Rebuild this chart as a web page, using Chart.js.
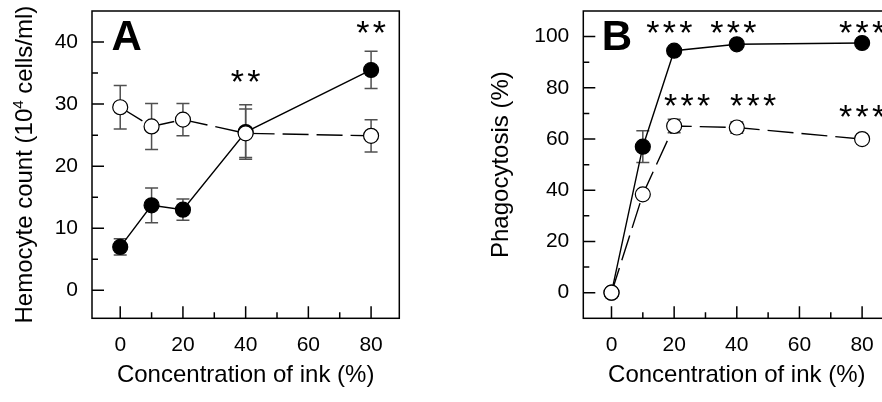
<!DOCTYPE html>
<html>
<head>
<meta charset="utf-8">
<script src="https://cdn.jsdelivr.net/npm/chart.js@4.4.1/dist/chart.umd.min.js"></script>
<style>
  html, body { margin: 0; padding: 0; background: #fff; }
  #wrap { position: relative; width: 882px; height: 402px; overflow: hidden; }
  #chartA { position: absolute; left: 0; top: 0; }
  #chartB { position: absolute; left: 441px; top: 0; }
</style>
</head>
<body>
<div id="wrap">
  <canvas id="chartA" width="441" height="402"></canvas>
  <canvas id="chartB" width="491" height="402"></canvas>
</div>
<script>
// ---------- data ----------
const conc = [0, 10, 20, 40, 80];

// A - hemocyte count (10^4 cells/ml)
const countInk     = [7.0, 13.7, 13.0, 25.5, 35.5];
const countInkErr  = [1.3, 2.8, 1.7, 4.4, 3.0];
const countCtrl    = [29.5, 26.4, 27.5, 25.3, 24.9];
const countCtrlErr = [3.5, 3.7, 2.6, 3.9, 2.6];

// B - phagocytosis (%)
const phagoInk     = [0, 57.0, 94.5, 97.0, 97.5];
const phagoInkErr  = [0, 6.2, 0.8, 0.8, 0.6];
const phagoCtrl    = [0, 38.4, 65.1, 64.5, 60.0];
const phagoCtrlErr = [0, 1.0, 2.6, 2.2, 0.8];

const xTicks  = [0, 20, 40, 60, 80];
const xMinor  = [10, 30, 50, 70];
const yTicksA = [0, 10, 20, 30, 40];
const yMinorA = [5, 15, 25, 35];
const yTicksB = [0, 20, 40, 60, 80, 100];
const yMinorB = [10, 30, 50, 70, 90];

// significance marks (x, y in data units)
const sigAx   = [40, 80];
const sigAy   = [34.5, 42.4];
const sigAtxt = ['**', '**'];
const sigBx   = [18.5, 38.9, 80, 24.1, 45.2, 80];
const sigBy   = [103.6, 103.6, 103.6, 75.1, 75.1, 70.9];
const sigBtxt = ['***', '***', '***', '***', '***', '***'];

const FONT = "'Liberation Sans', Arial, Helvetica, sans-serif";

function pts(vals) {
  return conc.map((x, i) => ({ x: x, y: vals[i] }));
}

// frame, inward ticks, error bars, panel letter, stars
function panelPlugin(cfg) {
  return {
    id: 'panel' + cfg.letter,
    beforeDatasetsDraw(chart) {
      const ctx = chart.ctx, ys = chart.scales.y;
      ctx.save();
      ctx.strokeStyle = '#505050';
      ctx.lineWidth = 1.5;
      chart.data.datasets.forEach((ds, di) => {
        const meta = chart.getDatasetMeta(di);
        ds.errors.forEach((e, i) => {
          if (!e) return;
          const p = meta.data[i];
          const v = ds.data[i].y;
          const t = ys.getPixelForValue(v + e);
          const b = ys.getPixelForValue(v - e);
          ctx.beginPath();
          ctx.moveTo(p.x, t); ctx.lineTo(p.x, b);
          ctx.moveTo(p.x - 6.5, t); ctx.lineTo(p.x + 6.5, t);
          ctx.moveTo(p.x - 6.5, b); ctx.lineTo(p.x + 6.5, b);
          ctx.stroke();
        });
      });
      ctx.restore();
    },
    afterDraw(chart) {
      const ctx = chart.ctx, a = chart.chartArea;
      const xs = chart.scales.x, ys = chart.scales.y;
      ctx.save();
      ctx.strokeStyle = '#000';
      ctx.lineWidth = 1.5;
      ctx.strokeRect(a.left, a.top, a.right - a.left, a.bottom - a.top);

      ctx.beginPath();
      xTicks.forEach(v => { const px = xs.getPixelForValue(v); ctx.moveTo(px, a.bottom); ctx.lineTo(px, a.bottom - 12); });
      xMinor.forEach(v => { const px = xs.getPixelForValue(v); ctx.moveTo(px, a.bottom); ctx.lineTo(px, a.bottom - 6); });
      cfg.yTicks.forEach(v => { const py = ys.getPixelForValue(v); ctx.moveTo(a.left, py); ctx.lineTo(a.left + 12, py); });
      cfg.yMinor.forEach(v => { const py = ys.getPixelForValue(v); ctx.moveTo(a.left, py); ctx.lineTo(a.left + 6, py); });
      ctx.stroke();

      // panel letter
      ctx.fillStyle = '#000';
      ctx.font = 'bold 42px ' + FONT;
      ctx.textBaseline = 'alphabetic';
      ctx.textAlign = 'left';
      const lm = ctx.measureText(cfg.letter);
      ctx.fillText(cfg.letter, a.left + 20.5 + lm.actualBoundingBoxLeft, a.top + 39);

      // significance stars
      ctx.font = '34px ' + FONT;
      ctx.textAlign = 'center';
      const sm = ctx.measureText('*');
      const off = (sm.actualBoundingBoxAscent - sm.actualBoundingBoxDescent) / 2;
      cfg.sigX.forEach((sx, i) => {
        const cx = xs.getPixelForValue(sx);
        const cy = ys.getPixelForValue(cfg.sigY[i]);
        const txt = cfg.sigTxt[i];
        const n = txt.length, pitch = 16.5;
        for (let k = 0; k < n; k++) {
          ctx.fillText(txt[k], cx + (k - (n - 1) / 2) * pitch, cy + off);
        }
      });

      // y title with superscript
      if (cfg.yTitleParts) {
        const cy = (a.top + a.bottom) / 2;
        ctx.translate(32, cy);
        ctx.rotate(-Math.PI / 2);
        ctx.textAlign = 'left';
        const main = '24px ' + FONT, sup = '15px ' + FONT;
        let total = 0;
        cfg.yTitleParts.forEach(p => { ctx.font = p.sup ? sup : main; total += ctx.measureText(p.t).width; });
        let x = -total / 2;
        cfg.yTitleParts.forEach(p => {
          ctx.font = p.sup ? sup : main;
          ctx.fillText(p.t, x, p.sup ? -9 : 0);
          x += ctx.measureText(p.t).width;
        });
      }
      ctx.restore();
    }
  };
}

function makeChart(id, cfg) {
  return new Chart(document.getElementById(id), {
    type: 'line',
    data: {
      datasets: [
        {
          data: pts(cfg.ctrl), errors: cfg.ctrlErr,
          borderColor: '#000', borderWidth: 1.4, borderDash: [26, 8],
          pointBackgroundColor: '#fff', pointBorderColor: '#000',
          pointBorderWidth: 1.2, pointRadius: 7.5, tension: 0
        },
        {
          data: pts(cfg.ink), errors: cfg.inkErr,
          borderColor: '#000', borderWidth: 1.4,
          pointBackgroundColor: '#000', pointBorderColor: '#000',
          pointBorderWidth: 1.2, pointRadius: 7.5, tension: 0
        }
      ]
    },
    options: {
      responsive: false,
      animation: false,
      devicePixelRatio: 1,
      layout: { autoPadding: false, padding: { top: 11, right: 41.7, left: 0, bottom: 0 } },
      plugins: { legend: { display: false }, tooltip: { enabled: false } },
      scales: {
        x: {
          type: 'linear', min: -9, max: 89,
          grid: { display: false, drawTicks: false },
          border: { display: false },
          afterBuildTicks: s => { s.ticks = xTicks.map(v => ({ value: v })); },
          afterFit: s => { s.height = 83.7; s.paddingLeft = 0; s.paddingRight = 0; },
          ticks: { padding: 14, autoSkip: false, maxRotation: 0, color: '#000', font: { family: FONT, size: 21 } },
          title: {
            display: true, text: 'Concentration of ink (%)', color: '#000',
            font: { family: FONT, size: 24, lineHeight: 1.2 }, padding: { top: 0, bottom: 12 }
          }
        },
        y: {
          type: 'linear', min: cfg.yMin, max: cfg.yMax,
          grid: { display: false, drawTicks: false },
          border: { display: false },
          afterBuildTicks: s => { s.ticks = cfg.yTicks.map(v => ({ value: v })); },
          afterFit: s => { s.width = cfg.yWidth; s.paddingTop = 0; s.paddingBottom = 0; },
          ticks: { padding: 14, autoSkip: false, color: '#000', font: { family: FONT, size: 21 } },
          title: {
            display: !!cfg.yTitle, text: cfg.yTitle || '', color: '#000',
            font: { family: FONT, size: 24, lineHeight: 1.2 }, padding: { top: 46, bottom: 0 }
          }
        }
      }
    },
    plugins: [panelPlugin(cfg)]
  });
}

makeChart('chartA', {
  letter: 'A',
  ink: countInk, inkErr: countInkErr, ctrl: countCtrl, ctrlErr: countCtrlErr,
  yMin: -4.5, yMax: 45, yTicks: yTicksA, yMinor: yMinorA, yWidth: 92,
  yTitleParts: [{ t: 'Hemocyte count (10' }, { t: '4', sup: true }, { t: ' cells/ml)' }],
  sigX: sigAx, sigY: sigAy, sigTxt: sigAtxt
});

makeChart('chartB', {
  letter: 'B',
  ink: phagoInk, inkErr: phagoInkErr, ctrl: phagoCtrl, ctrlErr: phagoCtrlErr,
  yMin: -10, yMax: 110, yTicks: yTicksB, yMinor: yMinorB, yWidth: 142.3,
  yTitle: 'Phagocytosis (%)',
  sigX: sigBx, sigY: sigBy, sigTxt: sigBtxt
});
</script>
</body>
</html>
